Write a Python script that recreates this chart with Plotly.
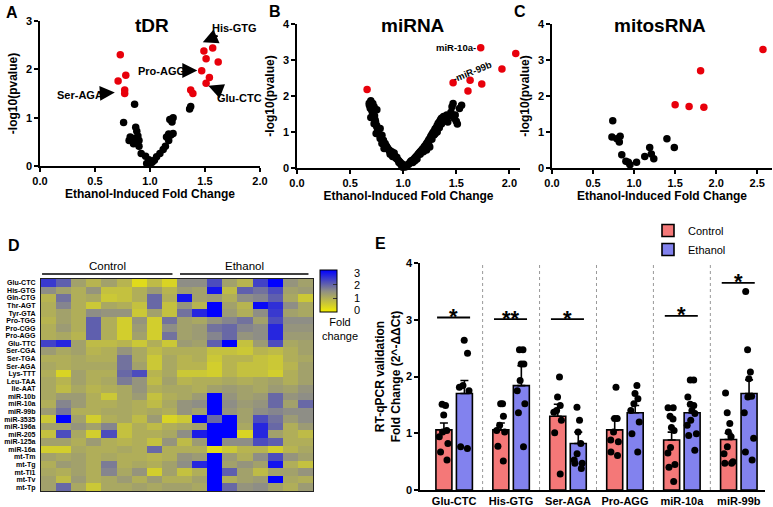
import plotly.graph_objects as go

W, H = 773, 507
FONT = "Liberation Sans"
RED = "#e8000b"
BAR_RED = "#f47878"
BAR_BLUE = "#8282ee"


def px_x(p):
    return p / W


def px_y(p):
    return 1 - p / H


# ---------------- A: tDR volcano ----------------
tdr_sig_fc = [0.73, 0.78, 0.71, 0.77, 0.77, 1.49, 1.57, 1.51, 1.62, 1.47, 1.54, 1.51, 1.37, 1.39]
tdr_sig_p = [2.30, 1.88, 1.76, 1.57, 1.50, 2.38, 2.44, 2.22, 2.15, 1.97, 1.83, 1.71, 1.57, 1.50]
tdr_ns_fc = [0.86, 0.76, 0.87, 0.88, 0.82, 0.85, 0.89, 0.90, 0.81, 0.86, 0.90, 0.85, 0.92, 0.96,
             0.99, 1.02, 1.04, 1.06, 1.09, 1.12, 1.14, 1.17, 1.15, 1.19, 1.21, 1.17, 1.18, 1.20,
             1.21, 1.36, 1.37, 0.97, 1.00]
tdr_ns_p = [1.28, 0.90, 0.80, 0.72, 0.60, 0.57, 0.62, 0.53, 0.53, 0.48, 0.41, 0.46, 0.26, 0.20,
            0.13, 0.08, 0.12, 0.19, 0.26, 0.34, 0.41, 0.53, 0.60, 0.64, 0.67, 0.66, 0.96, 0.91,
            1.00, 1.18, 1.23, 0.05, 0.03]

# ---------------- B: miRNA volcano ----------------
mir_sig_fc = [0.66, 1.73, 2.06, 1.93, 1.47, 1.63, 1.61, 1.74]
mir_sig_p = [2.18, 3.34, 3.18, 2.75, 2.37, 2.44, 2.14, 2.33]
mir_ns_fc = [0.695, 0.714, 0.682, 0.726, 0.704, 0.752, 0.72, 0.695, 0.736, 0.726, 0.752, 0.783,
             0.767, 0.745, 0.80, 0.783, 0.814, 0.80, 0.83, 0.846, 0.82, 0.871, 0.893, 0.915,
             0.877, 0.90, 0.925, 0.94, 0.956, 0.97, 0.987, 1.0, 1.02, 0.71, 0.74, 0.76, 0.79,
             0.81, 0.84, 0.86, 0.88, 0.91, 0.92, 0.93, 0.95, 0.96, 0.98, 0.99, 0.68, 0.69, 0.73,
             0.75, 0.77, 0.82, 0.85, 0.87, 0.89, 0.94, 0.97, 0.995,
             1.02, 1.03, 1.05, 1.06, 1.07, 1.08, 1.10, 1.11, 1.12, 1.13, 1.14, 1.15, 1.16, 1.17,
             1.18, 1.19, 1.20, 1.21, 1.22, 1.23, 1.24, 1.25, 1.26, 1.27, 1.28, 1.29, 1.30, 1.31,
             1.32, 1.33, 1.34, 1.35, 1.36, 1.37, 1.38, 1.40, 1.41, 1.42, 1.44, 1.45, 1.46, 1.47,
             1.48, 1.49, 1.50, 1.51, 1.53, 1.55, 1.19, 1.16, 1.13, 1.11, 1.09, 1.24, 1.27, 1.29,
             1.32, 1.34, 1.36, 1.22, 1.25, 1.30]
mir_ns_p = [1.87, 1.79, 1.74, 1.70, 1.61, 1.62, 1.47, 1.40, 1.33, 1.23, 1.14, 1.10,
            1.00, 0.96, 0.91, 0.82, 0.77, 0.68, 0.68, 0.58, 0.54, 0.49, 0.45, 0.42,
            0.38, 0.32, 0.31, 0.26, 0.21, 0.17, 0.12, 0.07, 0.03, 1.55, 1.28, 1.05, 0.86,
            0.72, 0.62, 0.52, 0.44, 0.36, 0.33, 0.28, 0.22, 0.15, 0.09, 0.05, 1.80, 1.66, 1.45,
            1.18, 0.94, 0.66, 0.56, 0.47, 0.40, 0.30, 0.14, 0.02,
            0.05, 0.08, 0.10, 0.14, 0.18, 0.21, 0.24, 0.28, 0.31, 0.34, 0.38, 0.42, 0.45, 0.48,
            0.52, 0.55, 0.60, 0.63, 0.68, 0.72, 0.78, 0.82, 0.88, 0.93, 0.98, 1.02, 1.08, 1.12,
            1.18, 1.24, 1.28, 1.33, 1.38, 1.30, 1.43, 1.35, 1.47, 1.28, 1.45, 1.55, 1.70, 1.79,
            1.38, 1.47, 1.30, 1.22, 1.65, 1.74, 0.45, 0.38, 0.25, 0.20, 0.15, 0.66, 0.80, 0.92,
            1.00, 1.12, 1.22, 0.50, 0.58, 0.95]

# ---------------- C: mitosRNA volcano ----------------
mito_sig_fc = [1.50, 1.67, 1.81, 1.85, 2.57]
mito_sig_p = [1.76, 1.71, 2.70, 1.69, 3.29]
mito_ns_fc = [0.74, 0.73, 0.79, 0.83, 0.82, 0.85, 0.90, 0.93, 0.95, 1.03, 1.13, 1.19, 1.21,
              1.24, 1.40, 1.49]
mito_ns_p = [1.31, 0.86, 0.81, 0.88, 0.72, 0.37, 0.19, 0.16, 0.09, 0.16, 0.32, 0.57, 0.39,
             0.26, 0.81, 0.57]

# ---------------- D: heatmap ----------------
heat_rows = ["Glu-CTC", "His-GTG", "Gln-CTG", "Thr-AGT", "Tyr-GTA", "Pro-TGG", "Pro-CGG",
             "Pro-AGG", "Glu-TTC", "Ser-CGA", "Ser-TGA", "Ser-AGA", "Lys-TTT", "Leu-TAA",
             "Ile-AAT", "miR-10b", "miR-10a", "miR-99b", "miR-3535", "miR-196a", "miR-205",
             "miR-125a", "miR-16a", "mt-Tm", "mt-Tg", "mt-Tl1", "mt-Tv", "mt-Tp"]
heat_z = [
    [2.4, 2.0, 1.2, 0.9, 1.2, 0.9, 0.3, 0.8, 0.4, 1.5, 1.5, 2.2, 1.2, 0.9, 2.3, 3.0, 1.4, 1.2],
    [1.5, 1.2, 1.0, 1.4, 0.7, 0.7, 1.0, 1.3, 0.9, 1.3, 1.2, 2.8, 0.8, 2.0, 1.8, 2.2, 1.2, 1.3],
    [0.9, 1.8, 1.0, 1.1, 0.6, 0.7, 1.0, 1.9, 1.0, 2.8, 1.2, 1.3, 1.0, 1.5, 1.6, 2.0, 1.1, 0.6],
    [1.0, 1.6, 1.0, 0.6, 1.1, 1.0, 0.7, 1.9, 0.7, 1.4, 0.9, 3.0, 1.2, 0.9, 2.9, 2.5, 1.5, 1.1],
    [1.0, 1.2, 1.0, 1.5, 1.4, 1.4, 0.6, 1.2, 0.7, 1.8, 2.6, 3.0, 1.3, 1.0, 1.5, 2.4, 1.2, 1.1],
    [0.9, 1.2, 1.0, 2.0, 1.0, 0.5, 1.4, 0.5, 1.8, 1.2, 1.1, 1.4, 1.6, 1.8, 1.2, 2.2, 1.5, 1.5],
    [1.0, 1.3, 1.0, 2.0, 1.0, 0.5, 1.3, 0.5, 1.5, 1.2, 1.3, 1.8, 1.9, 1.6, 1.5, 2.6, 1.4, 1.4],
    [1.0, 1.1, 0.9, 2.0, 1.0, 0.5, 1.2, 0.5, 1.8, 1.2, 1.3, 1.6, 1.9, 1.4, 1.5, 2.6, 1.3, 1.3],
    [2.3, 2.6, 1.2, 0.8, 0.8, 0.9, 0.6, 1.0, 0.6, 1.3, 1.2, 2.0, 3.0, 0.7, 1.3, 2.2, 1.1, 1.2],
    [1.3, 1.1, 1.2, 0.9, 1.0, 1.4, 1.1, 0.8, 1.0, 1.0, 1.0, 0.7, 0.7, 0.6, 0.9, 0.8, 1.0, 1.2],
    [1.0, 1.0, 1.1, 1.0, 1.0, 1.8, 1.1, 0.6, 1.1, 0.9, 1.0, 0.6, 0.9, 0.9, 0.7, 0.6, 1.0, 1.1],
    [1.1, 1.0, 1.1, 1.1, 1.1, 1.8, 1.2, 0.6, 1.1, 0.9, 0.9, 0.5, 0.9, 0.7, 0.7, 0.6, 0.9, 1.2],
    [1.0, 0.4, 1.2, 1.0, 1.0, 1.9, 2.2, 0.9, 1.1, 0.6, 0.6, 0.5, 0.9, 0.7, 0.7, 0.5, 1.0, 1.2],
    [1.1, 0.9, 1.2, 1.0, 1.1, 1.7, 1.4, 0.8, 1.2, 0.9, 1.0, 1.0, 1.1, 1.0, 1.1, 1.2, 1.0, 1.2],
    [1.1, 0.8, 1.1, 0.9, 1.0, 1.1, 1.4, 1.0, 1.1, 1.1, 1.0, 1.2, 1.3, 1.2, 1.1, 1.3, 1.2, 1.4],
    [1.1, 1.3, 1.3, 1.0, 0.6, 1.1, 1.3, 0.7, 1.0, 1.1, 1.3, 3.0, 1.4, 1.2, 1.3, 1.9, 1.4, 1.5],
    [1.0, 1.6, 1.3, 1.0, 1.0, 1.1, 1.0, 0.8, 1.1, 1.4, 1.5, 3.0, 1.5, 1.3, 1.4, 1.9, 1.2, 1.9],
    [1.3, 1.8, 1.0, 1.0, 1.1, 1.1, 1.0, 1.1, 1.0, 1.4, 1.2, 3.0, 1.4, 1.2, 1.5, 1.6, 1.5, 1.5],
    [0.6, 3.0, 1.2, 0.5, 1.0, 1.1, 0.8, 1.3, 0.4, 0.6, 3.0, 1.9, 3.0, 1.2, 2.2, 1.8, 1.3, 1.5],
    [1.2, 1.2, 1.4, 1.2, 1.6, 0.7, 1.0, 0.8, 1.0, 1.1, 1.2, 3.0, 3.0, 1.1, 2.6, 1.9, 1.0, 1.3],
    [0.7, 2.2, 1.1, 0.5, 2.2, 0.7, 1.0, 1.0, 1.1, 1.5, 2.7, 3.0, 3.0, 0.4, 2.6, 1.2, 1.0, 0.8],
    [1.2, 1.2, 1.0, 1.3, 1.0, 0.9, 1.0, 0.7, 1.4, 0.8, 1.3, 3.0, 1.5, 1.5, 2.2, 2.0, 1.0, 1.0],
    [0.5, 0.5, 1.1, 1.0, 1.0, 1.1, 1.0, 1.9, 1.0, 1.0, 1.0, 0.3, 0.6, 0.9, 0.9, 0.5, 0.9, 1.1],
    [1.2, 1.1, 1.2, 1.0, 1.1, 1.0, 1.0, 0.9, 1.0, 1.4, 1.3, 3.0, 1.3, 1.0, 1.5, 2.2, 1.4, 1.2],
    [1.0, 1.3, 1.2, 1.0, 1.7, 1.0, 1.1, 1.0, 1.2, 1.5, 2.6, 3.0, 1.2, 1.4, 1.2, 2.8, 1.0, 0.7],
    [1.1, 1.0, 1.2, 1.0, 1.6, 1.1, 1.4, 0.5, 1.2, 0.7, 1.0, 3.0, 2.0, 1.2, 0.8, 1.2, 1.2, 1.4],
    [1.2, 0.8, 1.3, 1.0, 1.1, 1.3, 1.0, 1.3, 1.0, 1.0, 1.2, 3.0, 1.0, 1.2, 1.3, 3.0, 1.1, 1.0],
    [1.2, 1.9, 1.1, 0.6, 1.1, 1.1, 1.2, 1.1, 1.2, 1.2, 1.1, 3.0, 1.9, 1.4, 1.5, 1.2, 1.0, 1.3],
]
n_control = 9

# ---------------- E: RT-qPCR bars ----------------
genes = ["Glu-CTC", "His-GTG", "Ser-AGA", "Pro-AGG", "miR-10a", "miR-99b"]
ctrl_mean = [1.06, 1.06, 1.30, 1.06, 0.88, 0.89]
ctrl_sem = [0.12, 0.12, 0.21, 0.20, 0.14, 0.11]
eth_mean = [1.70, 1.84, 0.82, 1.36, 1.36, 1.70]
eth_sem = [0.23, 0.35, 0.20, 0.13, 0.13, 0.24]
ctrl_points = [
    [1.49, 1.51, 1.32, 1.05, 1.02, 0.94, 0.82, 0.67, 0.53],
    [1.52, 1.52, 1.30, 1.14, 1.05, 1.02, 0.77, 0.51],
    [1.99, 1.64, 1.49, 1.40, 1.37, 1.23, 1.01, 0.28],
    [1.81, 1.26, 1.26, 1.02, 0.85, 0.88, 0.61, 0.67],
    [1.45, 1.45, 1.25, 1.30, 1.05, 1.10, 0.75, 0.65, 0.45, 0.40, 0.15],
    [1.71, 1.36, 1.17, 1.02, 0.94, 0.76, 0.64, 0.50, 0.47, 0.47],
]
eth_points = [
    [2.64, 2.41, 1.84, 1.81, 1.75, 0.73, 0.76],
    [2.47, 2.47, 2.22, 2.22, 1.93, 1.75, 1.52, 1.36, 0.76],
    [1.46, 1.23, 1.02, 0.82, 0.64, 0.47, 0.47, 0.38, 0.53],
    [1.84, 1.61, 1.70, 1.52, 1.40, 1.20, 0.99, 0.67],
    [1.94, 1.94, 1.51, 1.49, 1.64, 1.40, 1.35, 1.23, 1.14, 0.96, 0.99, 0.70],
    [3.50, 2.47, 2.08, 1.96, 1.65, 1.64, 1.36, 0.91, 0.67, 0.53],
]
sig_text = ["*", "**", "*", "", "*", "*"]
sig_y = [3.04, 3.01, 3.01, None, 3.07, 3.65]

fig = go.Figure()

dot = dict(size=7.5, line=dict(width=0))
for xa, ya, fc, p, col in [
    ("x", "y", tdr_ns_fc, tdr_ns_p, "black"), ("x", "y", tdr_sig_fc, tdr_sig_p, RED),
    ("x2", "y2", mir_ns_fc, mir_ns_p, "black"), ("x2", "y2", mir_sig_fc, mir_sig_p, RED),
    ("x3", "y3", mito_ns_fc, mito_ns_p, "black"), ("x3", "y3", mito_sig_fc, mito_sig_p, RED),
]:
    fig.add_trace(go.Scatter(x=fc, y=p, mode="markers", xaxis=xa, yaxis=ya,
                             marker=dict(color=col, **dot), cliponaxis=False, showlegend=False))

fig.add_trace(go.Heatmap(
    z=heat_z, y=heat_rows, x=list(range(len(heat_z[0]))), xaxis="x4", yaxis="y4",
    zmin=0, zmax=3, colorscale=[[0, "#f4ee00"], [0.5, "#8e8e86"], [1, "#0000ff"]],
    colorbar=dict(x=px_x(320), xanchor="left", y=px_y(270), yanchor="top",
                  len=42, lenmode="pixels", thickness=17, xpad=0, ypad=0,
                  outlinewidth=1, outlinecolor="black", tickvals=[1, 2],
                  ticks="inside", ticklen=4, tickcolor="#333", showticklabels=False),
))

xs = list(range(len(genes)))
fig.add_trace(go.Bar(x=xs, y=ctrl_mean, name="Control", xaxis="x5", yaxis="y5",
                     marker=dict(color=BAR_RED, line=dict(color="black", width=1.6)),
                     error_y=dict(type="data", array=ctrl_sem, arrayminus=[0] * 6,
                                  symmetric=False, color="black", thickness=1.6, width=4)))
fig.add_trace(go.Bar(x=xs, y=eth_mean, name="Ethanol", xaxis="x5", yaxis="y5",
                     marker=dict(color=BAR_BLUE, line=dict(color="black", width=1.6)),
                     error_y=dict(type="data", array=eth_sem, arrayminus=[0] * 6,
                                  symmetric=False, color="black", thickness=1.6, width=4)))

# individual samples, spread by the box trace's own jitter
for i in xs:
    for pts, off in [(ctrl_points[i], -0.18), (eth_points[i], 0.18)]:
        fig.add_trace(go.Box(x=[i + off] * len(pts), y=pts, xaxis="x5", yaxis="y5",
                             boxpoints="all", jitter=0.8, pointpos=0, width=0.26,
                             fillcolor="rgba(0,0,0,0)", line=dict(color="rgba(0,0,0,0)"),
                             marker=dict(color="black", size=7), showlegend=False))

tick_font = dict(family=FONT, size=11, color="black", weight="bold")
title_font = dict(family=FONT, size=12, color="black", weight="bold")
axis = dict(showline=True, linecolor="black", linewidth=1.6, ticks="outside", ticklen=4,
            tickwidth=1.6, tickcolor="black", showgrid=False, zeroline=False,
            tickfont=tick_font, automargin=False)


def volcano_axes(x0, x1, xmax, ymax, yt0, yt1, xticks):
    xa = dict(axis, domain=[px_x(x0), px_x(x1)], range=[0, xmax], tickvals=xticks,
              tickformat=".1f", title=dict(text="Ethanol-Induced Fold Change",
                                           font=title_font, standoff=3))
    ya = dict(axis, domain=[px_y(yt1), px_y(yt0)], range=[0, ymax], dtick=1,
              title=dict(text="-log10(pvalue)", font=title_font, standoff=6))
    return xa, ya


xa1, ya1 = volcano_axes(40, 260, 2.0, 3, 21, 166, [0, 0.5, 1.0, 1.5, 2.0])
xa2, ya2 = volcano_axes(297, 520, 2.1, 4, 24, 168, [0, 0.5, 1.0, 1.5, 2.0])
xa3, ya3 = volcano_axes(552, 772, 2.68, 4, 24, 168, [0, 0.5, 1.0, 1.5, 2.0, 2.5])
ya2["anchor"] = "x2"
xa2["anchor"] = "y2"
ya3["anchor"] = "x3"
xa3["anchor"] = "y3"

ncol = len(heat_z[0])
xa4 = dict(domain=[px_x(41), px_x(313)], anchor="y4", range=[-0.5, ncol - 0.5],
           showticklabels=False, ticks="", showgrid=False, zeroline=False, automargin=False,
           showline=True, mirror=True, linecolor="#222", linewidth=1.2)
ya4 = dict(domain=[px_y(491), px_y(279)], anchor="x4", autorange="reversed", ticks="",
           tickmode="array", tickvals=heat_rows, automargin=False,
           showgrid=False, zeroline=False, showline=True, mirror=True, linecolor="#222",
           linewidth=1.2, tickfont=dict(family=FONT, size=7, color="black", weight="bold"),
           ticklabelstandoff=3)

xa5 = dict(axis, domain=[px_x(420), px_x(765)], anchor="y5", range=[-0.6, 5.46],
           tickvals=xs, ticktext=genes, ticks="")
ya5 = dict(axis, domain=[px_y(490), px_y(263)], anchor="x5", range=[0, 4], dtick=1,
           title=dict(text="RT-qPCR validation<br>Fold Change (2^-ΔΔCt)",
                      font=title_font, standoff=3))

shapes = []
for i in xs[:-1]:
    shapes.append(dict(type="line", xref="x5", yref="y5", x0=i + 0.5, x1=i + 0.5, y0=0, y1=4,
                       line=dict(color="#999", width=1, dash="dot")))
annotations = []
for i in xs:
    if sig_y[i] is None:
        continue
    shapes.append(dict(type="line", xref="x5", yref="y5", x0=i - 0.3, x1=i + 0.28,
                       y0=sig_y[i], y1=sig_y[i], line=dict(color="black", width=1.8)))
    annotations.append(dict(x=i - 0.01, y=sig_y[i], xref="x5", yref="y5", text=sig_text[i],
                            showarrow=False, yanchor="middle", yshift=1,
                            font=dict(family=FONT, size=22, color="black", weight="bold")))


def paper_text(text, xp, yp, size, bold=False):
    font = dict(family=FONT, size=size, color="black")
    if bold:
        font["weight"] = "bold"
    return dict(x=px_x(xp), y=px_y(yp), xref="paper", yref="paper", text=text,
                showarrow=False, xanchor="center", yanchor="middle", font=font)


# group headers above heatmap
for label, c0, c1 in [("Control", -0.43, n_control - 0.8), ("Ethanol", n_control - 0.3, ncol - 0.8)]:
    shapes.append(dict(type="line", xref="x4", yref="paper", x0=c0, x1=c1,
                       y0=px_y(274), y1=px_y(274), line=dict(color="black", width=1.6)))
    annotations.append(dict(x=(c0 + c1) / 2, y=px_y(266), xref="x4", yref="paper",
                            text=label, showarrow=False, yanchor="middle",
                            font=dict(family=FONT, size=11.5, color="black")))

for t, xp, yp in [("A", 12, 12), ("B", 275, 11), ("C", 520, 11), ("D", 14, 245), ("E", 380, 243)]:
    annotations.append(paper_text(t, xp, yp, 16, bold=True))
for t, xp in [("tDR", 152), ("miRNA", 413), ("mitosRNA", 660)]:
    annotations.append(paper_text(t, xp, 25, 19, bold=True))

lab_font = dict(family=FONT, size=11, color="black", weight="bold")
arrow = dict(showarrow=True, arrowhead=2, arrowsize=1.5, arrowwidth=2, arrowcolor="black",
             xref="x", yref="y", font=lab_font)
annotations += [
    dict(arrow, x=1.48, y=2.56, ax=32, ay=-14, text="His-GTG"),
    dict(arrow, x=1.43, y=1.975, ax=-36, ay=0, text="Pro-AGG"),
    dict(arrow, x=0.68, y=1.52, ax=-35, ay=2, text="Ser-AGA"),
    dict(arrow, x=1.53, y=1.66, ax=31, ay=12, text="Glu-CTC"),
    dict(x=1.70, y=3.34, xref="x2", yref="y2", text="miR-10a-", showarrow=False,
         xanchor="right", yanchor="middle",
         font=dict(family=FONT, size=9.5, color="black", weight="bold")),
    dict(x=1.65, y=2.67, xref="x2", yref="y2", text="-miR-99b", showarrow=False,
         textangle=-22, yanchor="middle",
         font=dict(family=FONT, size=9.5, color="black", weight="bold")),
]

# colorbar labels
for v, yp in [("3", 273), ("2", 285), ("1", 298), ("0", 310)]:
    annotations.append(paper_text(v, 357, yp, 11))
annotations.append(paper_text("Fold<br>change", 340, 329, 11))

fig.update_layout(
    width=W, height=H, margin=dict(l=0, r=0, t=0, b=0),
    paper_bgcolor="white", plot_bgcolor="white",
    font=dict(family=FONT, color="black"),
    xaxis=xa1, yaxis=ya1, xaxis2=xa2, yaxis2=ya2, xaxis3=xa3, yaxis3=ya3,
    xaxis4=xa4, yaxis4=ya4, xaxis5=xa5, yaxis5=ya5,
    barmode="group", bargap=0.28, bargroupgap=0.22,
    shapes=shapes, annotations=annotations,
    legend=dict(x=px_x(648), y=px_y(216), xanchor="left", yanchor="top",
                font=dict(family=FONT, size=11, color="black"), tracegroupgap=0,
                bgcolor="rgba(0,0,0,0)"),
)

# the page's default body margin would push the figure off the 773x507 window
fig.write_html("out.html", config={"displayModeBar": False},
               post_script="document.body.style.margin = '0';")
